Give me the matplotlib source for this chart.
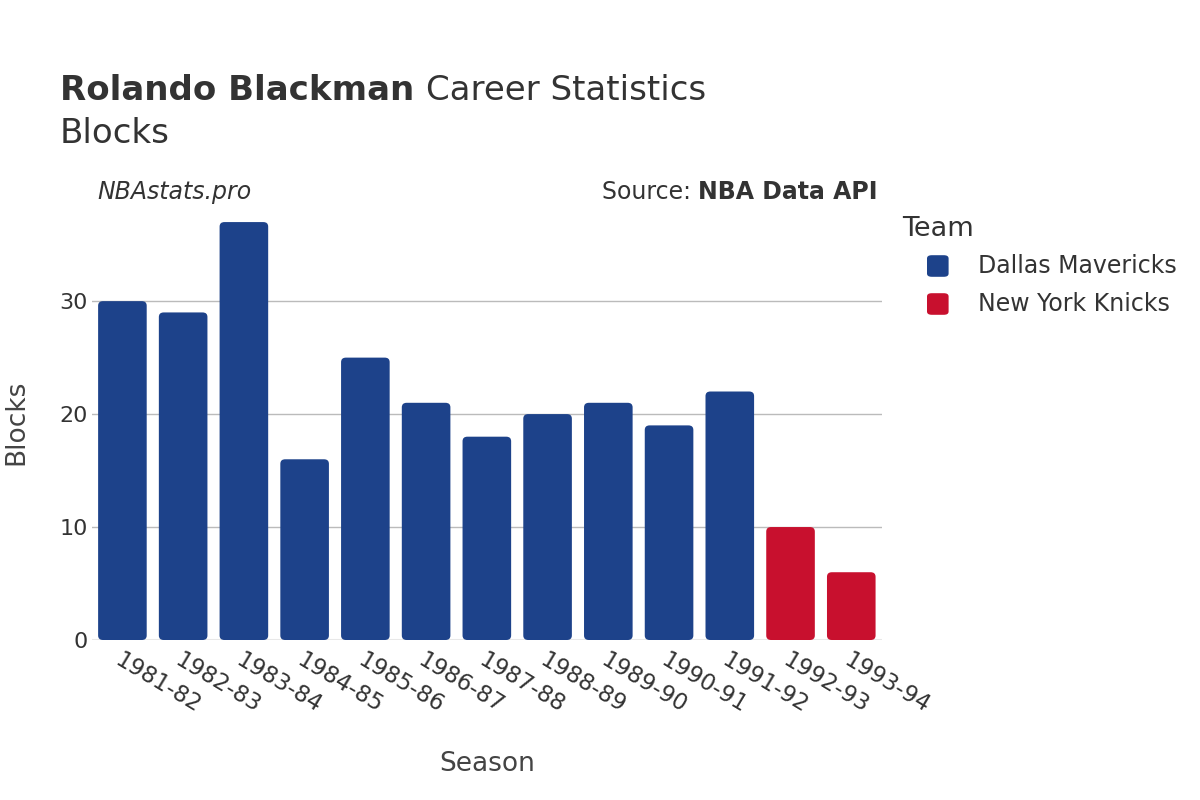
import matplotlib.pyplot as plt
from matplotlib.patches import FancyBboxPatch

seasons = ["1981-82", "1982-83", "1983-84", "1984-85", "1985-86", "1986-87", "1987-88",
           "1988-89", "1989-90", "1990-91", "1991-92", "1992-93", "1993-94"]
blocks = [30, 29, 37, 16, 25, 21, 18, 20, 21, 19, 22, 10, 6]
teams = ["Dallas Mavericks"] * 11 + ["New York Knicks"] * 2
team_colors = {"Dallas Mavericks": "#1D428A", "New York Knicks": "#C8102E"}

plt.rcParams['font.family'] = ['DejaVu Sans']
fig = plt.figure(figsize=(12, 8), dpi=100)
ax = fig.add_axes([0.0767, 0.2, 0.658, 0.545])

x = list(range(len(seasons)))
bars = ax.bar(x, blocks, width=0.8, color=[team_colors[t] for t in teams], zorder=3)

# round the bar corners a little
for b in bars:
    b.set_visible(False)
    p = FancyBboxPatch((b.get_x(), 0), b.get_width(), b.get_height(),
                       boxstyle="round,pad=0,rounding_size=0.08",
                       mutation_aspect=5,
                       facecolor=b.get_facecolor(), edgecolor='none', zorder=3)
    ax.add_patch(p)

ax.set_xlim(-0.5, len(seasons) - 0.5)
ax.set_ylim(0, 38.6)
ax.set_yticks([0, 10, 20, 30])
ax.yaxis.grid(True, color='#bbbbbb', linewidth=1, zorder=0)
ax.axhline(0, color='#e8e8e8', linewidth=1.5, zorder=2)
for s in ax.spines.values():
    s.set_visible(False)
ax.tick_params(axis='y', length=0, labelsize=16, colors='#333333', pad=3)
ax.tick_params(axis='x', length=0, labelsize=16.5, colors='#333333', pad=6)
ax.set_xticks(x)
ax.set_xticklabels(seasons, rotation=-31, ha='left', va='top', rotation_mode='anchor')

ax.set_xlabel("Season", fontsize=19, color='#444444', labelpad=24)
ax.set_ylabel("Blocks", fontsize=19, color='#444444', labelpad=22)

fig.canvas.draw()
renderer = fig.canvas.get_renderer()


def text_row(xp, yp, parts, size, ha='left'):
    # draw several text pieces side by side, in figure pixels
    objs = [fig.text(0, 0, s, fontsize=size, color='#333333', **kw) for s, kw in parts]
    widths = [o.get_window_extent(renderer).width for o in objs]
    total = sum(widths)
    start = xp - total if ha == 'right' else xp
    for o, w in zip(objs, widths):
        o.set_position((start / 1200, yp / 800))
        start += w


text_row(60, 800 - 100, [("Rolando Blackman ", {'fontweight': 'bold'}), ("Career Statistics", {})], 24.5)
text_row(60, 800 - 143, [("Blocks", {})], 24.5)
text_row(97, 800 - 199, [("NBAstats.pro", {'style': 'italic'})], 17)
text_row(878, 800 - 199, [("Source: ", {}), ("NBA Data API", {'fontweight': 'bold'})], 17, ha='right')

# legend
fig.text(902 / 1200, 1 - 236 / 800, "Team", fontsize=19.5, color='#333333')
for i, (name, col) in enumerate(team_colors.items()):
    yy = 1 - (266 + i * 38) / 800
    fig.patches.append(FancyBboxPatch((927 / 1200, yy - 0.0135), 0.018, 0.027,
                                      boxstyle="round,pad=0,rounding_size=0.004",
                                      facecolor=col, edgecolor='none',
                                      transform=fig.transFigure, figure=fig))
    fig.text(978 / 1200, yy, name, fontsize=17, color='#333333', va='center')

fig.savefig("out.png", dpi=100)
